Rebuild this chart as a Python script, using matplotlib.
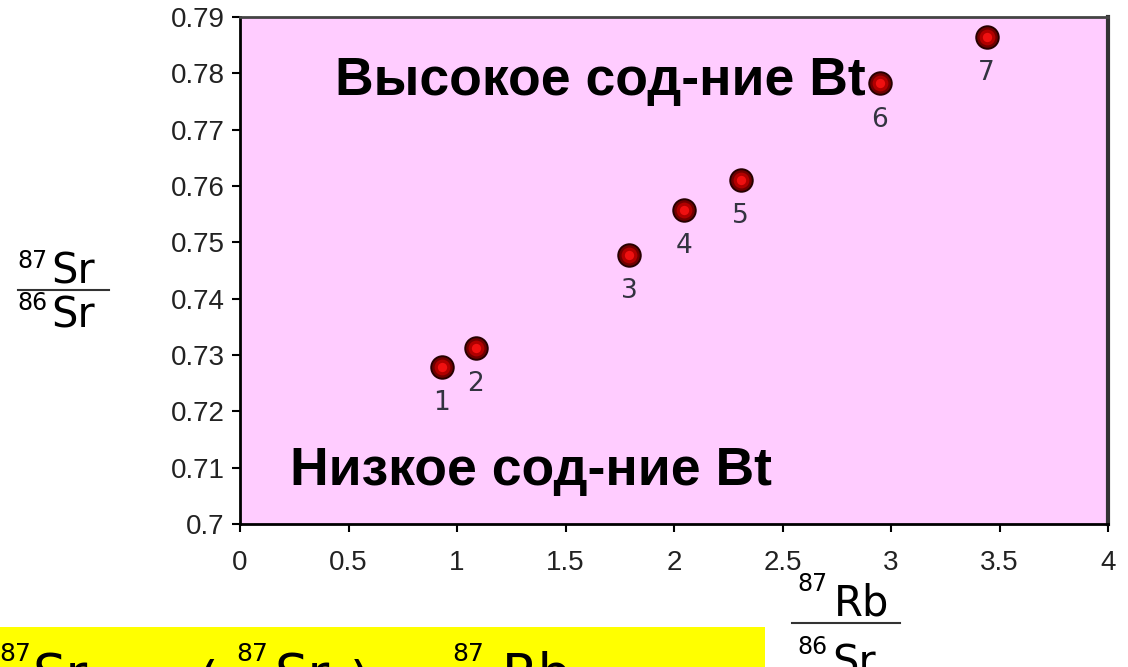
import matplotlib
matplotlib.use("Agg")
import matplotlib.pyplot as plt
from matplotlib.patches import Rectangle
from matplotlib.lines import Line2D

# Rb-Sr isochron samples
sample_ids = ['1', '2', '3', '4', '5', '6', '7']
rb_sr = [0.930, 1.086, 1.794, 2.046, 2.307, 2.949, 3.441]
sr_sr = [0.7279, 0.7313, 0.7478, 0.7557, 0.7611, 0.7782, 0.7864]

x_ticks = [0, 0.5, 1, 1.5, 2, 2.5, 3, 3.5, 4]
x_tick_labels = ['0', '0.5', '1', '1.5', '2', '2.5', '3', '3.5', '4']
y_ticks = [0.70, 0.71, 0.72, 0.73, 0.74, 0.75, 0.76, 0.77, 0.78, 0.79]
y_tick_labels = ['0.7', '0.71', '0.72', '0.73', '0.74', '0.75', '0.76', '0.77', '0.78', '0.79']

high_label = 'Высокое сод-ние Bt'
low_label = 'Низкое сод-ние Bt'

W, H = 1128, 667


def px(x, y):
    # pixel position -> figure fraction
    return x / W, 1 - y / H


fig = plt.figure(figsize=(W / 100, H / 100), dpi=100)
ax = fig.add_axes([240 / W, 1 - 524 / H, 868 / W, 507 / H])
ax.set_facecolor('#ffccff')

# spheres: layered discs, dark rim to bright centre
ax.scatter(rb_sr, sr_sr, s=310, color='#260000', zorder=3, linewidths=0)
ax.scatter(rb_sr, sr_sr, s=220, color='#700000', zorder=4, linewidths=0)
ax.scatter(rb_sr, sr_sr, s=130, color='#b00000', zorder=5, linewidths=0)
ax.scatter(rb_sr, sr_sr, s=45, color='#f01010', zorder=6, linewidths=0)

for sid, x, y in zip(sample_ids, rb_sr, sr_sr):
    ax.annotate(sid, (x, y), xytext=(0, -26), textcoords='offset points',
                ha='center', va='center', fontsize=19, color='#333340',
                family='DejaVu Sans')

ax.text(0.438, 0.7762, high_label, fontsize=38.5, fontweight='bold',
        family='Liberation Sans', color='black', va='baseline', ha='left')
ax.text(0.232, 0.7069, low_label, fontsize=38.5, fontweight='bold',
        family='Liberation Sans', color='black', va='baseline', ha='left')

ax.set_xlim(0, 4)
ax.set_ylim(0.70, 0.79)
ax.set_xticks(x_ticks)
ax.set_xticklabels(x_tick_labels)
ax.set_yticks(y_ticks)
ax.set_yticklabels(y_tick_labels)
ax.tick_params(axis='both', direction='out', length=6, width=1.5,
               labelsize=20, labelcolor='#222222')
ax.tick_params(axis='x', pad=13)
ax.tick_params(axis='y', pad=5)
for lab in ax.get_xticklabels() + ax.get_yticklabels():
    lab.set_family('Liberation Sans')

ax.spines['left'].set_linewidth(2)
ax.spines['bottom'].set_linewidth(2)
ax.spines['top'].set_color('#444444')
ax.spines['top'].set_linewidth(2)
ax.spines['right'].set_color('#333333')
ax.spines['right'].set_linewidth(3)

# y axis label: 87Sr / 86Sr
fig.add_artist(Line2D([18 / W, 109 / W], [1 - 290 / H] * 2, color='#333333', lw=1.5))
fig.text(*px(17, 249), '87', fontsize=17, family='DejaVu Sans', va='top')
fig.text(*px(51, 284), 'Sr', fontsize=30, family='DejaVu Sans', va='baseline')
fig.text(*px(17, 291), '86', fontsize=17, family='DejaVu Sans', va='top')
fig.text(*px(51, 327), 'Sr', fontsize=30, family='DejaVu Sans', va='baseline')

# x axis label: 87Rb / 86Sr
fig.add_artist(Line2D([792 / W, 900 / W], [1 - 623 / H] * 2, color='#333333', lw=1.5))
fig.text(*px(797, 572), '87', fontsize=17, family='DejaVu Sans', va='top')
fig.text(*px(834, 615), 'Rb', fontsize=30, family='DejaVu Sans', va='baseline')
fig.text(*px(797, 635), '86', fontsize=17, family='DejaVu Sans', va='top')
fig.text(*px(832, 676), 'Sr', fontsize=30, family='DejaVu Sans', va='baseline')

# yellow formula box, cut off by the bottom edge (as in the source slide)
fig.add_artist(Rectangle(px(0, 700), 765 / W, 73 / H, transform=fig.transFigure,
                         facecolor='#ffff00', edgecolor='none', zorder=0))
fig.text(*px(-1, 661), '87', fontsize=18, family='DejaVu Sans', va='baseline')
fig.text(*px(33, 692), 'Sr', fontsize=38, family='DejaVu Sans', va='baseline')
fig.text(*px(197, 700), '(', fontsize=38, family='DejaVu Sans', va='baseline')
fig.text(*px(236, 661), '87', fontsize=18, family='DejaVu Sans', va='baseline')
fig.text(*px(275, 692), 'Sr', fontsize=38, family='DejaVu Sans', va='baseline')
fig.text(*px(350, 700), ')', fontsize=38, family='DejaVu Sans', va='baseline')
fig.text(*px(452, 661), '87', fontsize=18, family='DejaVu Sans', va='baseline')
fig.text(*px(502, 692), 'Rb', fontsize=38, family='DejaVu Sans', va='baseline')

fig.savefig('out.png', dpi=100)
